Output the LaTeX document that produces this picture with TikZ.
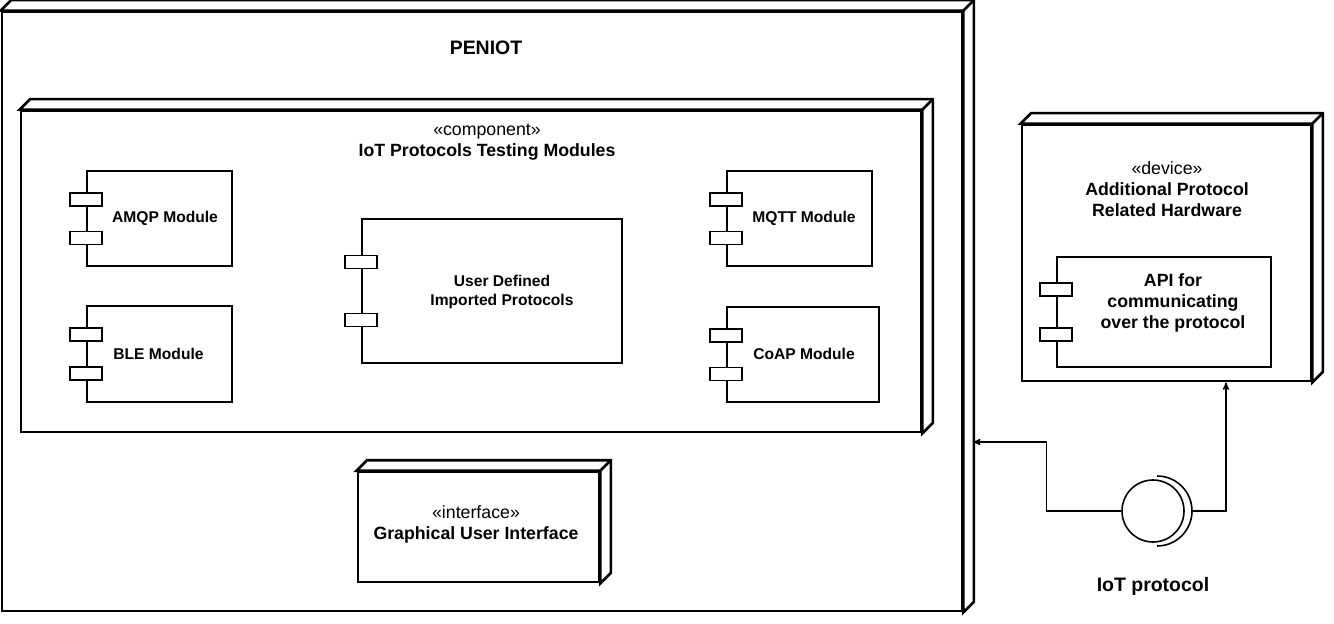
\documentclass[tikz,border=0pt]{standalone}
\usepackage{fontspec}
\setmainfont{Liberation Sans}
\usetikzlibrary{arrows,calc,positioning}
\tikzstyle{node3d} = [rectangle, draw, line width=2pt, fill=white, inner sep=0pt]
\tikzstyle{face} = [draw, line width=2pt, fill=white]
\tikzstyle{comp} = [rectangle, draw, line width=1.2pt, fill=white, inner sep=0pt]
\tikzstyle{tab} = [draw, line width=1.2pt, fill=white]
\tikzstyle{modtext} = [font=\bfseries\fontsize{11.7}{14.25}\selectfont, align=center, inner sep=0pt]
\tikzstyle{boxtext} = [font=\fontsize{13.3}{15.75}\selectfont, align=center, inner sep=0pt]
\tikzstyle{title} = [font=\bfseries\fontsize{14.6}{17}\selectfont, inner sep=0pt]
\tikzstyle{line} = [draw, line width=1pt, -stealth']

\begin{document}
\begin{tikzpicture}[x=0.75pt, y=-0.75pt]
  \useasboundingbox (0,0) rectangle (1334,624);
  % nodes (3d boxes)
  \node [node3d, minimum width=720pt, minimum height=449.25pt] (peniot) at (482,311.5) {};
  \node [node3d, minimum width=675pt, minimum height=240.75pt] (testing) at (471,271.5) {};
  \node [node3d, minimum width=180.75pt, minimum height=82.5pt] (gui) at (478.5,527) {};
  \node [node3d, minimum width=216.75pt, minimum height=192pt] (device) at (1166.5,253) {};
  \foreach \n in {peniot, testing, gui, device} {
    \filldraw [face] (\n.north west) -- ++(10.5,-10.5) -| ($(\n.south east)+(10.5,-10.5)$) -- (\n.south east) -- (\n.north east) -- cycle;
    \draw [face] (\n.north east) -- ++(10.5,-10.5);
  }
  %
  \node [title] (peniottitle) at (486,48) {PENIOT};
  \node [boxtext] (testingtitle) at (487,142) {«component»\\\textbf{IoT Protocols Testing Modules}};
  \node [boxtext] (guititle) at (476,524.5) {«interface»\\\textbf{Graphical User Interface}};
  \node [boxtext] (devicetitle) at (1167,189) {«device»\\\textbf{Additional Protocol}\\\textbf{Related Hardware}};
  % components
  \node [comp, minimum width=108.75pt, minimum height=71.25pt] (amqp) at (159.5,218.5) {};
  \node [comp, minimum width=108.75pt, minimum height=72pt] (ble) at (159.5,354) {};
  \node [comp, minimum width=108.75pt, minimum height=71.25pt] (mqtt) at (799.5,218.5) {};
  \node [comp, minimum width=114pt, minimum height=71.25pt] (coap) at (803,354.5) {};
  \node [comp, minimum width=195pt, minimum height=108pt] (userdef) at (492,291) {};
  \node [comp, minimum width=160.5pt, minimum height=82.5pt] (api) at (1164,312) {};
  \foreach \m in {amqp, ble, mqtt, coap, userdef, api}
    \foreach \t in {0.3, 0.7}
      \draw [tab] ($(\m.north west)!\t!(\m.south west)$) ++(-12pt,-4.9pt) rectangle ++(24pt,9.75pt);
  %
  \node [modtext] (amqptext) at (165,218) {AMQP Module};
  \node [modtext] (bletext) at (158.5,354) {BLE Module};
  \node [modtext] (mqtttext) at (804,218) {MQTT Module};
  \node [modtext] (coaptext) at (804,354) {CoAP Module};
  \node [modtext] (userdeftext) at (502,291.5) {User Defined\\Imported Protocols};
  \node [boxtext, font=\bfseries\fontsize{13.3}{15.75}\selectfont] (apitext) at (1173,303) {API for\\communicating\\over the protocol};
  % interface
  \node [circle, draw, line width=1.2pt, fill=white, minimum size=46.5pt, inner sep=0pt] (iotproto) at (1153,511) {};
  \coordinate (socket) at (1157,511);
  \draw [line width=1.2pt] ([yshift=26.25pt]socket) arc [start angle=90, end angle=-90, radius=26.25pt];
  \node [title, below=26pt of iotproto] (iotlabel) {IoT protocol};
  \coordinate (peniotside) at (973,442);
  %
  \path [line] (iotproto.west) -- ++(-75,0) |- (peniotside);
  \path [line] ([xshift=26.25pt]socket) -| ($(device.south)+(59.5,0)$);
\end{tikzpicture}
\end{document}
